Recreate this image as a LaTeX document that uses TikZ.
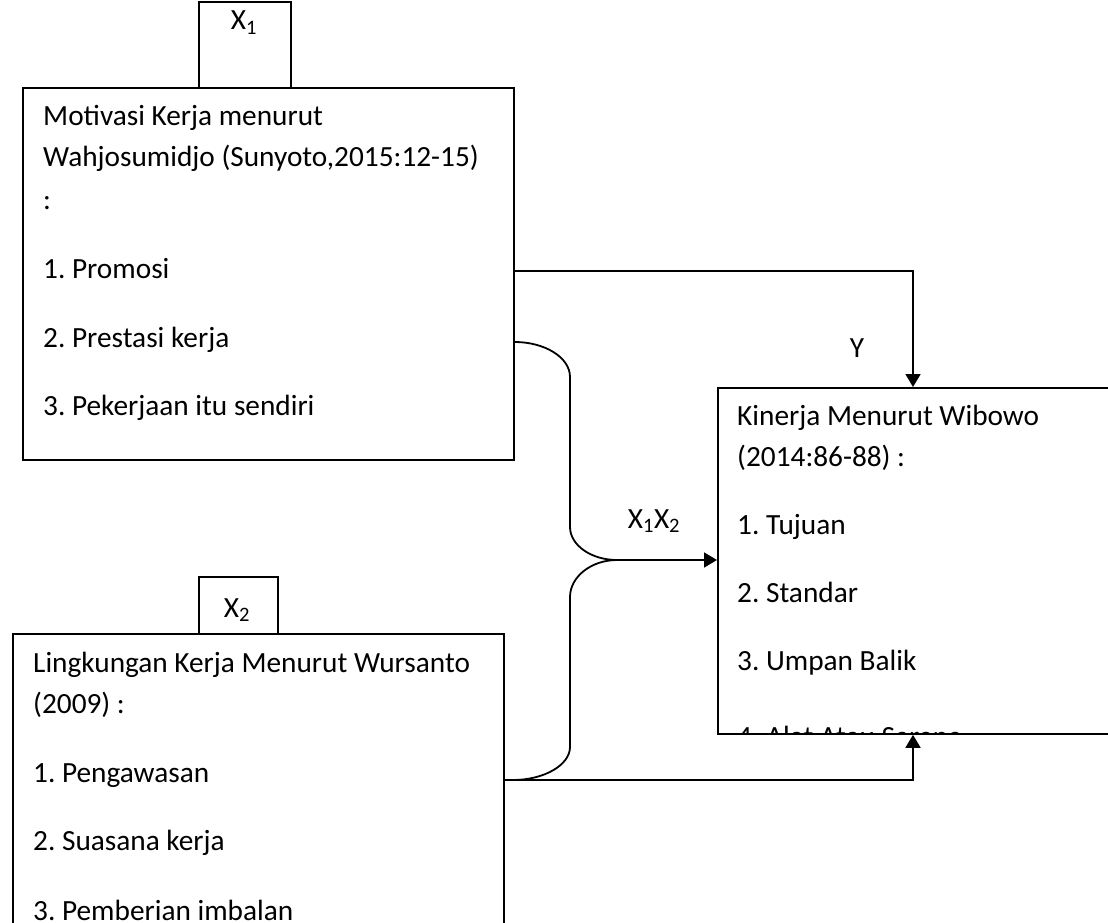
\documentclass[tikz,border=0pt]{standalone}
\usepackage{fontspec}
\setmainfont{Carlito}
\usetikzlibrary{arrows.meta}
\frenchspacing
\begin{document}
\begin{tikzpicture}[x=1pt,y=-1pt,
  box/.style={draw, line width=1.8pt, inner sep=0pt, anchor=north west},
  txt/.style={anchor=base west, inner sep=0pt, font=\fontsize{29.3}{34}\selectfont},
  lbl/.style={anchor=base, inner sep=0pt, font=\fontsize{29.3}{34}\selectfont},
  conn/.style={line width=1.8pt},
  arr/.style={conn, -{Triangle[width=15pt,length=13pt]}}]
\clip (0,0) rectangle (1108,923);
\fill[white] (0,0) rectangle (1108,923);
% boxes
\node[box, minimum width=92pt, minimum height=86pt] (x1box) at (198,1) {};
\node[box, minimum width=491pt, minimum height=372pt] (mot) at (22,87) {};
\node[box, minimum width=79pt, minimum height=57pt] (x2box) at (198,576) {};
\node[box, minimum width=491pt, minimum height=330pt] (lin) at (12,633) {};
\node[box, minimum width=420pt, minimum height=346pt] (kin) at (717,387) {};
% labels
\node[lbl] (x1lbl) at (244,30) {X\textsubscript{1}};
\node[lbl] (x2lbl) at (237,617) {X\textsubscript{2}};
\node[lbl] (ylbl) at (857,357) {Y};
\node[lbl] (x12lbl) at (654,528) {X\textsubscript{1}X\textsubscript{2}};
% Motivasi text
\node[txt] (m1) at (43,126) {Motivasi Kerja menurut};
\node[txt] (m2) at (43,167) {Wahjosumidjo (Sunyoto,2015:12-15)};
\node[txt] (m3) at (43,209) {:};
\node[txt] (m4) at (43,278) {1. Promosi};
\node[txt] (m5) at (43,347) {2. Prestasi kerja};
\node[txt] (m6) at (43,415) {3. Pekerjaan itu sendiri};
% Lingkungan text
\node[txt] (l1) at (33,672) {Lingkungan Kerja Menurut Wursanto};
\node[txt] (l2) at (33,713) {(2009) :};
\node[txt] (l3) at (33,782) {1. Pengawasan};
\node[txt] (l4) at (33,850) {2. Suasana kerja};
\node[txt] (l5) at (33,920) {3. Pemberian imbalan};
% Kinerja text
\begin{scope}
\clip (717,387) rectangle (1108,733);
\node[txt] (k1) at (737,425) {Kinerja Menurut Wibowo};
\node[txt] (k2) at (737,466) {(2014:86-88) :};
\node[txt] (k3) at (737,534) {1. Tujuan};
\node[txt] (k4) at (737,602) {2. Standar};
\node[txt] (k5) at (737,670) {3. Umpan Balik};
\node[txt] (k6) at (737,746) {4. Alat Atau Sarana};
\end{scope}
% connectors
\coordinate (ya) at (913,271);
\draw[arr] (mot.east |- ya) -- (ya) -- (kin.north -| ya);
\coordinate (c1) at (513,342);
\coordinate (jn) at (617,560);
\draw[conn] (mot.east |- c1) .. controls (544,342) and (570,357) .. (570,377)
  -- (570,527) .. controls (570,545) and (591,560) .. (jn);
\draw[arr] (jn) -- (kin.west |- jn);
\coordinate (c2) at (513,780);
\draw[conn] (jn) .. controls (591,560) and (570,577) .. (570,597)
  -- (570,747) .. controls (570,765) and (544,780) .. (c2);
\coordinate (yb) at (913,780);
\draw[arr] (lin.east |- yb) -- (yb) -- (kin.south -| yb);
\end{tikzpicture}
\end{document}
